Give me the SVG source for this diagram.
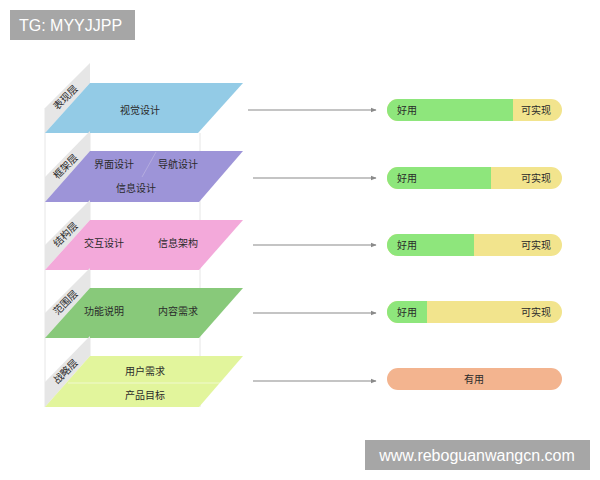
<svg xmlns="http://www.w3.org/2000/svg" width="600" height="480" viewBox="0 0 600 480">
<defs>
<style>
text{font-family:"Noto Sans CJK SC","Liberation Sans",sans-serif;fill:#2a2a2a;font-size:10px}
.side{fill:#e6e6e6}
.lbl{font-size:10px;text-anchor:middle}
.wm{fill:#a6a6a6}
.wmt{fill:#fff;font-family:"Liberation Sans",sans-serif;font-size:16px}
.wall{stroke:#e6e6e6;stroke-width:1;fill:none}
.conn{stroke:#8a8a8a;stroke-width:1.2;fill:none}
.g{fill:#8ee67c}
.y{fill:#f2e48d}
.sep{stroke:#ffffff;stroke-opacity:0.5;stroke-width:1}
</style>
<marker id="ah" viewBox="0 0 10 10" refX="9" refY="5" markerWidth="6" markerHeight="6" orient="auto" markerUnits="userSpaceOnUse">
<path d="M0,1 L10,5 L0,9 z" fill="#8a8a8a"/>
</marker>
<clipPath id="c1"><rect x="387" y="99" width="175" height="22" rx="11"/></clipPath>
<clipPath id="c2"><rect x="387" y="167" width="175" height="22" rx="11"/></clipPath>
<clipPath id="c3"><rect x="387" y="234" width="175" height="22" rx="11"/></clipPath>
<clipPath id="c4"><rect x="387" y="301" width="175" height="22" rx="11"/></clipPath>
</defs>
<rect width="600" height="480" fill="#ffffff"/>

<g id="watermark-top">
<rect class="wm" x="10" y="10" width="125" height="30"/>
<text class="wmt" x="19" y="31">TG: MYYJJPP</text>
</g>

<g id="walls">
<line class="wall" x1="45" y1="108" x2="45" y2="407"/>
<line class="wall" x1="90" y1="83" x2="90" y2="356"/>
<line class="wall" x1="200" y1="133" x2="200" y2="407"/>
</g>

<g id="layer-surface">
<polygon class="side" points="45,108 90,63 90,83 45,133"/>
<polygon points="90,83 243,83 198,133 45,133" fill="#93cbe6"/>
<text class="lbl" transform="translate(68,100) rotate(-45)">表现层</text>
<text class="lbl" x="140" y="114">视觉设计</text>
</g>

<g id="layer-skeleton">
<polygon class="side" points="45,177 90,131 90,151 45,202"/>
<polygon points="90,151 243,151 199,202 45,202" fill="#9d94d8"/>
<line x1="156" y1="152" x2="142" y2="177" stroke="#b4acdf" stroke-width="1"/>
<text class="lbl" transform="translate(68,169) rotate(-45)">框架层</text>
<text class="lbl" x="114" y="168">界面设计</text>
<text class="lbl" x="178" y="168">导航设计</text>
<text class="lbl" x="136" y="192">信息设计</text>
</g>

<g id="layer-structure">
<polygon class="side" points="45,245 90,200 90,220 45,270"/>
<polygon points="90,220 243,220 199,270 45,270" fill="#f3a9da"/>
<text class="lbl" transform="translate(68,237) rotate(-45)">结构层</text>
<text class="lbl" x="104" y="247">交互设计</text>
<text class="lbl" x="178" y="247">信息架构</text>
</g>

<g id="layer-scope">
<polygon class="side" points="45,313 90,268 90,288 45,338"/>
<polygon points="90,288 243,288 199,338 45,338" fill="#88c97a"/>
<text class="lbl" transform="translate(68,305) rotate(-45)">范围层</text>
<text class="lbl" x="104" y="315">功能说明</text>
<text class="lbl" x="178" y="315">内容需求</text>
</g>

<g id="layer-strategy">
<polygon class="side" points="45,382 90,336 90,356 45,407"/>
<polygon points="90,356 243,356 199,407 45,407" fill="#e2f59c"/>
<line class="sep" x1="68" y1="383" x2="220" y2="383"/>
<text class="lbl" transform="translate(68,374) rotate(-45)">战略层</text>
<text class="lbl" x="145" y="375">用户需求</text>
<text class="lbl" x="145" y="399">产品目标</text>
</g>

<g id="connectors">
<line class="conn" x1="248" y1="110" x2="376" y2="110" marker-end="url(#ah)"/>
<line class="conn" x1="253" y1="178" x2="376" y2="178" marker-end="url(#ah)"/>
<line class="conn" x1="253" y1="245" x2="376" y2="245" marker-end="url(#ah)"/>
<line class="conn" x1="253" y1="313" x2="376" y2="313" marker-end="url(#ah)"/>
<line class="conn" x1="253" y1="381" x2="376" y2="381" marker-end="url(#ah)"/>
</g>

<g id="bar-1">
<g clip-path="url(#c1)">
<rect class="y" x="387" y="99" width="175" height="22"/>
<rect class="g" x="387" y="99" width="126" height="22"/>
</g>
<text x="397" y="114">好用</text>
<text x="551" y="114" text-anchor="end">可实现</text>
</g>

<g id="bar-2">
<g clip-path="url(#c2)">
<rect class="y" x="387" y="167" width="175" height="22"/>
<rect class="g" x="387" y="167" width="104" height="22"/>
</g>
<text x="397" y="182">好用</text>
<text x="551" y="182" text-anchor="end">可实现</text>
</g>

<g id="bar-3">
<g clip-path="url(#c3)">
<rect class="y" x="387" y="234" width="175" height="22"/>
<rect class="g" x="387" y="234" width="87" height="22"/>
</g>
<text x="397" y="249">好用</text>
<text x="551" y="249" text-anchor="end">可实现</text>
</g>

<g id="bar-4">
<g clip-path="url(#c4)">
<rect class="y" x="387" y="301" width="175" height="22"/>
<rect class="g" x="387" y="301" width="40" height="22"/>
</g>
<text x="397" y="316">好用</text>
<text x="551" y="316" text-anchor="end">可实现</text>
</g>

<g id="bar-5">
<rect x="387" y="368" width="175" height="22" rx="11" fill="#f3b48f"/>
<text x="474" y="383" text-anchor="middle">有用</text>
</g>

<g id="watermark-bottom">
<rect class="wm" x="365" y="440" width="225" height="30"/>
<text class="wmt" x="477" y="461" text-anchor="middle">www.reboguanwangcn.com</text>
</g>
</svg>
